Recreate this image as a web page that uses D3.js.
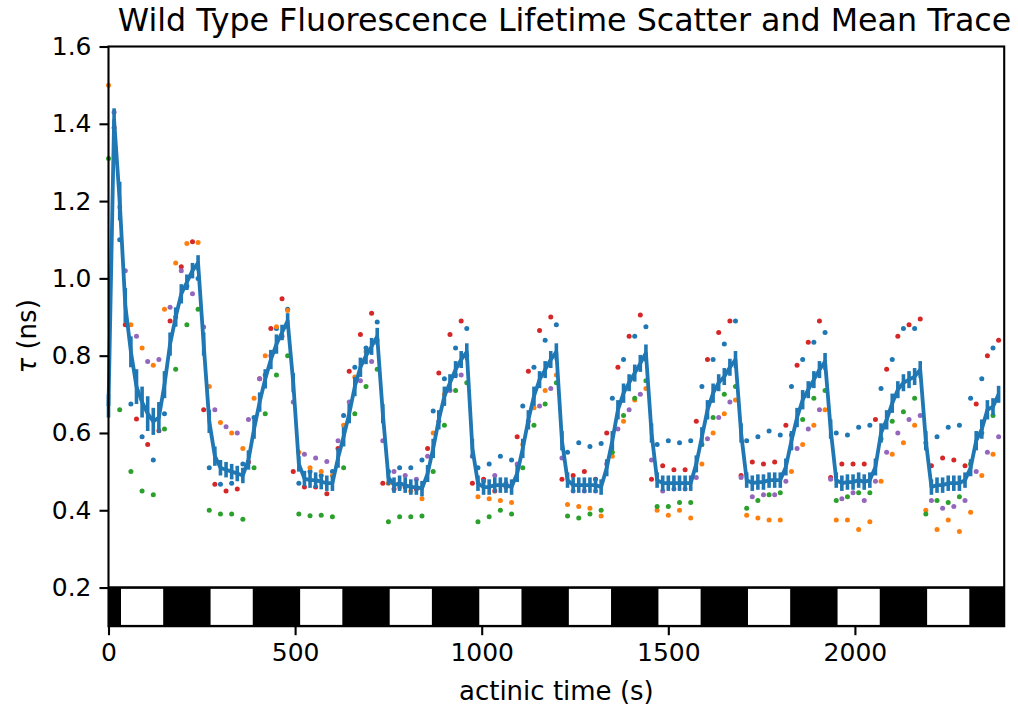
<!DOCTYPE html>
<html>
<head>
<meta charset="utf-8">
<script src="https://cdn.jsdelivr.net/npm/d3@7"></script>
<style>
  body { margin: 0; background: #fff; }
  svg text { font-family: "DejaVu Sans", sans-serif; fill: #000; }
</style>
</head>
<body>
<div id="chart"></div>
<script>
(function() {
  var WIDTH = 1018, HEIGHT = 709;
  var margin = {left: 108.5, right: 13.8, top: 46.5, bottom: 82.8};

  // axis ticks
  var xTicks = [0, 500, 1000, 1500, 2000];
  var yTicks = [0.2, 0.4, 0.6, 0.8, 1.0, 1.2, 1.4, 1.6];

  // actinic light periods (white boxes), seconds
  var lightStarts = [30, 270, 510, 750, 990, 1230, 1470, 1710, 1950, 2190];
  var lightLength = 120;

  // mean trace, one value every 15 s from t = 0
  var meanStep = 15;
  var meanValues = [
    0.67, 1.41, 1.20, 0.93, 0.81, 0.72, 0.68, 0.65, 0.63, 0.64, 0.725, 0.83, 0.90, 0.96, 0.99, 1.02,
    1.04, 0.83, 0.63, 0.54, 0.51, 0.505, 0.50, 0.495, 0.49, 0.53, 0.61, 0.68, 0.74, 0.79, 0.83, 0.86,
    0.89, 0.73, 0.52, 0.482, 0.478, 0.478, 0.474, 0.47, 0.47, 0.535, 0.59, 0.65, 0.72, 0.77, 0.80, 0.824,
    0.85, 0.65, 0.485, 0.465, 0.47, 0.465, 0.46, 0.46, 0.456, 0.495, 0.56, 0.634, 0.695, 0.73, 0.764, 0.79,
    0.81, 0.56, 0.47, 0.46, 0.46, 0.465, 0.465, 0.465, 0.46, 0.495, 0.56, 0.634, 0.695, 0.738, 0.764, 0.79,
    0.81, 0.58, 0.478, 0.465, 0.465, 0.465, 0.465, 0.465, 0.46, 0.51, 0.58, 0.66, 0.703, 0.73, 0.755, 0.78,
    0.807, 0.60, 0.478, 0.47, 0.47, 0.47, 0.47, 0.47, 0.47, 0.52, 0.59, 0.66, 0.703, 0.73, 0.746, 0.77,
    0.79, 0.60, 0.478, 0.47, 0.473, 0.473, 0.478, 0.478, 0.478, 0.512, 0.58, 0.64, 0.686, 0.712, 0.738, 0.764,
    0.785, 0.61, 0.478, 0.47, 0.473, 0.473, 0.478, 0.473, 0.478, 0.512, 0.60, 0.634, 0.677, 0.712, 0.73, 0.738,
    0.746, 0.764, 0.58, 0.46, 0.465, 0.465, 0.47, 0.47, 0.47, 0.478, 0.51, 0.58, 0.61, 0.66, 0.668, 0.70
  ];
  var meanErrors = [
    0.03, 0.03, 0.05, 0.045, 0.04, 0.045, 0.04, 0.045, 0.035, 0.04, 0.035, 0.03, 0.025, 0.025, 0.02, 0.02,
    0.02, 0.03, 0.03, 0.025, 0.02, 0.02, 0.02, 0.02, 0.02, 0.025, 0.025, 0.025, 0.025, 0.025, 0.025, 0.02,
    0.02, 0.025, 0.02, 0.02, 0.02, 0.02, 0.02, 0.02, 0.02, 0.025, 0.025, 0.025, 0.025, 0.025, 0.022, 0.022,
    0.022, 0.025, 0.02, 0.02, 0.02, 0.02, 0.02, 0.02, 0.02, 0.022, 0.025, 0.025, 0.025, 0.022, 0.022, 0.022,
    0.022, 0.025, 0.02, 0.02, 0.02, 0.02, 0.02, 0.02, 0.02, 0.022, 0.025, 0.025, 0.025, 0.022, 0.022, 0.022,
    0.022, 0.025, 0.02, 0.02, 0.02, 0.02, 0.02, 0.02, 0.02, 0.022, 0.025, 0.025, 0.025, 0.022, 0.022, 0.022,
    0.022, 0.025, 0.02, 0.02, 0.02, 0.02, 0.02, 0.02, 0.02, 0.022, 0.025, 0.025, 0.025, 0.022, 0.022, 0.022,
    0.022, 0.025, 0.02, 0.02, 0.02, 0.02, 0.02, 0.02, 0.02, 0.022, 0.025, 0.025, 0.025, 0.022, 0.022, 0.022,
    0.022, 0.025, 0.02, 0.02, 0.02, 0.02, 0.02, 0.02, 0.02, 0.022, 0.025, 0.025, 0.025, 0.022, 0.022, 0.022,
    0.022, 0.022, 0.025, 0.02, 0.02, 0.02, 0.02, 0.02, 0.02, 0.02, 0.022, 0.025, 0.025, 0.025, 0.022, 0.022
  ];

  // individual traces, one value every 30 s (null = not measured)
  var scatterStep = 30;
  var blueStart = 0, orangeStart = 0, greenStart = 0, redStart = 15, purpleStart = 15;
  var blueValues = [
    null, 1.10, 0.675, 0.59, 0.53, 0.65, 0.90, 0.98,
    1.00, 0.51, 0.467, 0.47, 0.52, 0.64, 0.75, 0.87,
    0.92, 0.47, 0.50, 0.49, 0.50, 0.645, 0.77, 0.82,
    0.887, 0.50, 0.51, 0.51, 0.53, 0.657, 0.74, 0.82,
    0.87, 0.51, 0.52, 0.54, 0.53, 0.67, 0.77, 0.84,
    0.88, 0.55, 0.575, 0.565, 0.573, 0.69, 0.79, 0.85,
    0.875, 0.57, 0.58, 0.575, 0.58, 0.72, 0.79, 0.83,
    0.89, 0.58, 0.59, 0.605, 0.595, 0.72, 0.79, 0.835,
    0.86, 0.60, 0.595, 0.615, 0.62, 0.715, 0.79, 0.87,
    0.87, 0.575, 0.59, 0.615, 0.62, 0.69, 0.74, 0.82
  ];
  var orangeValues = [
    1.50, 1.185, 0.88, 0.82, 0.775, 0.92, 1.04, 1.09,
    1.093, 0.72, 0.627, 0.60, 0.56, 0.69, 0.80, 0.875,
    0.917, 0.55, 0.51, 0.50, 0.49, 0.62, 0.745, 0.81,
    0.84, 0.47, 0.46, 0.45, 0.43, 0.60, 0.70, 0.75,
    0.80, 0.435, 0.43, 0.425, 0.42, 0.57, 0.665, 0.71,
    0.75, 0.415, 0.41, 0.405, 0.385, 0.54, 0.63, 0.685,
    0.715, 0.40, 0.387, 0.40, 0.38, 0.52, 0.60, 0.65,
    0.685, 0.387, 0.38, 0.375, 0.375, 0.50, 0.57, 0.62,
    0.66, 0.375, 0.375, 0.35, 0.37, 0.475, 0.545, 0.575,
    0.62, 0.40, 0.35, 0.375, 0.345, 0.395, 0.49, 0.545
  ];
  var greenValues = [
    1.31, 0.66, 0.50, 0.45, 0.44, 0.61, 0.765, 0.88,
    0.92, 0.40, 0.39, 0.39, 0.377, 0.51, 0.65, 0.75,
    0.80, 0.39, 0.386, 0.387, 0.383, 0.51, 0.65, 0.72,
    0.765, 0.37, 0.383, 0.383, 0.385, 0.50, 0.62, 0.71,
    0.73, 0.37, 0.383, 0.40, 0.39, 0.51, 0.62, 0.675,
    0.73, 0.385, 0.38, 0.39, 0.40, 0.55, 0.645, 0.69,
    0.735, 0.41, 0.41, 0.42, 0.42, 0.57, 0.64, 0.70,
    0.72, 0.405, 0.425, 0.44, 0.445, 0.595, 0.635, 0.69,
    0.71, 0.425, 0.435, 0.445, 0.445, 0.585, 0.63, 0.655,
    0.69, 0.39, 0.425, 0.42, 0.435, 0.52, 0.60, 0.645
  ];
  var redValues = [
    1.39, 0.88, 0.636, 0.57, 0.606, 0.89, 1.03, 1.095,
    0.66, 0.467, 0.45, 0.455, 0.525, 0.74, 0.87, 0.947,
    0.50, 0.46, 0.46, 0.443, 0.56, 0.76, 0.855, 0.91,
    0.47, 0.455, 0.46, 0.455, 0.56, 0.755, 0.855, 0.89,
    0.47, 0.48, 0.45, 0.46, 0.59, 0.76, 0.865, 0.90,
    0.48, 0.49, 0.50, 0.48, 0.60, 0.77, 0.85, 0.905,
    0.48, 0.515, 0.505, 0.505, 0.63, 0.79, 0.86, 0.89,
    0.49, 0.525, 0.52, 0.525, 0.62, 0.775, 0.835, 0.89,
    0.485, 0.52, 0.52, 0.52, 0.635, 0.765, 0.85, 0.88,
    0.895, 0.515, 0.535, 0.53, 0.515, 0.675, 0.80, 0.84
  ];
  var purpleValues = [
    1.43, 1.02, 0.85, 0.785, 0.79, 0.925, 1.02, 0.96,
    0.874, 0.66, 0.616, 0.60, 0.635, 0.74, 0.80, 0.85,
    0.68, 0.545, 0.535, 0.526, 0.58, 0.68, 0.735, 0.785,
    0.58, 0.50, 0.49, 0.48, 0.54, 0.63, 0.71, 0.75,
    0.54, 0.475, 0.49, 0.47, 0.52, 0.63, 0.67, 0.715,
    0.535, 0.45, 0.45, 0.45, 0.52, 0.61, 0.66, 0.70,
    0.53, 0.45, 0.455, 0.455, 0.485, 0.585, 0.64, 0.68,
    0.485, 0.435, 0.44, 0.44, 0.475, 0.56, 0.61, 0.66,
    0.48, 0.43, 0.445, 0.425, 0.475, 0.55, 0.60, 0.635,
    0.645, 0.425, 0.405, 0.41, 0.425, 0.50, 0.55, 0.59
  ];

  var series = [
    {name: 'blue', color: '#1f77b4', start: blueStart, values: blueValues},
    {name: 'orange', color: '#ff7f0e', start: orangeStart, values: orangeValues},
    {name: 'green', color: '#2ca02c', start: greenStart, values: greenValues},
    {name: 'red', color: '#d62728', start: redStart, values: redValues},
    {name: 'purple', color: '#9467bd', start: purpleStart, values: purpleValues}
  ];

  var svg = d3.select('#chart').append('svg')
    .attr('width', WIDTH)
    .attr('height', HEIGHT);

  var x = d3.scaleLinear()
    .domain([0, 2400])
    .range([margin.left, WIDTH - margin.right]);
  var y = d3.scaleLinear()
    .domain([0.1, 1.6])
    .range([HEIGHT - margin.bottom, margin.top]);

  // light / dark strip along the bottom
  svg.append('rect')
    .attr('x', x(0))
    .attr('y', y(0.2) - 1.3)
    .attr('width', x(2400) - x(0))
    .attr('height', y(0.1) - y(0.2) + 1.3)
    .style('fill', '#000');

  svg.selectAll('.light')
    .data(lightStarts)
    .enter()
      .append('rect')
      .attr('class', 'light')
      .attr('x', function(d) { return x(d) + 1.3; })
      .attr('y', y(0.2) + 1.3)
      .attr('width', function(d) { return x(d + lightLength) - x(d) - 2.6; })
      .attr('height', y(0.1) - y(0.2) - 2.6)
      .style('fill', '#fff');

  // scatter of each trace
  series.forEach(function(s) {
    var pts = s.values.map(function(v, i) {
      return {t: s.start + i * scatterStep, v: v};
    }).filter(function(d) { return d.v !== null; });

    svg.append('g')
      .attr('class', 'scatter-' + s.name)
      .selectAll('circle')
      .data(pts)
      .enter()
        .append('circle')
        .attr('cx', function(d) { return x(d.t); })
        .attr('cy', function(d) { return y(d.v); })
        .attr('r', 2.5)
        .style('fill', s.color);
  });

  // mean trace with error bars
  var meanPts = meanValues.map(function(v, i) {
    return {t: i * meanStep, v: v, e: meanErrors[i]};
  });

  svg.append('g')
    .selectAll('line')
    .data(meanPts)
    .enter()
      .append('line')
      .attr('x1', function(d) { return x(d.t); })
      .attr('x2', function(d) { return x(d.t); })
      .attr('y1', function(d) { return y(d.v - d.e); })
      .attr('y2', function(d) { return y(d.v + d.e); })
      .style('stroke', '#1f77b4')
      .style('stroke-width', 3.6);

  var line = d3.line()
    .x(function(d) { return x(d.t); })
    .y(function(d) { return y(d.v); });

  svg.append('path')
    .datum(meanPts)
    .attr('d', line)
    .style('fill', 'none')
    .style('stroke', '#1f77b4')
    .style('stroke-width', 3.8)
    .style('stroke-linejoin', 'round');

  // frame
  svg.append('rect')
    .attr('x', x(0))
    .attr('y', y(1.6))
    .attr('width', x(2400) - x(0))
    .attr('height', y(0.1) - y(1.6))
    .style('fill', 'none')
    .style('stroke', '#000')
    .style('stroke-width', 2.1);

  // axes
  var yAxis = svg.append('g')
    .attr('transform', 'translate(' + x(0) + ',0)')
    .call(d3.axisLeft(y).tickValues(yTicks).tickSize(9).tickPadding(8)
      .tickFormat(d3.format('.1f')));
  var xAxis = svg.append('g')
    .attr('transform', 'translate(0,' + y(0.1) + ')')
    .call(d3.axisBottom(x).tickValues(xTicks).tickSize(9).tickPadding(8)
      .tickFormat(d3.format('d')));

  [xAxis, yAxis].forEach(function(a) {
    a.select('.domain').remove();
    a.selectAll('.tick line').style('stroke', '#000').style('stroke-width', 2.1);
    a.selectAll('.tick text')
      .style('font-family', '"DejaVu Sans", sans-serif')
      .style('font-size', '25px')
      .style('fill', '#000');
  });

  // titles
  svg.append('text')
    .attr('x', 564.5)
    .attr('y', 31)
    .attr('text-anchor', 'middle')
    .style('font-size', '31.7px')
    .text('Wild Type Fluorescence Lifetime Scatter and Mean Trace');

  svg.append('text')
    .attr('x', (x(0) + x(2400)) / 2)
    .attr('y', 700)
    .attr('text-anchor', 'middle')
    .style('font-size', '26px')
    .text('actinic time (s)');

  var yLabel = svg.append('text')
    .attr('transform', 'translate(36,' + (y(0.1) + y(1.6)) / 2 + ') rotate(-90)')
    .attr('text-anchor', 'middle')
    .style('font-size', '26px');
  yLabel.append('tspan').style('font-style', 'italic').text('τ');
  yLabel.append('tspan').text(' (ns)');
})();
</script>
</body>
</html>
